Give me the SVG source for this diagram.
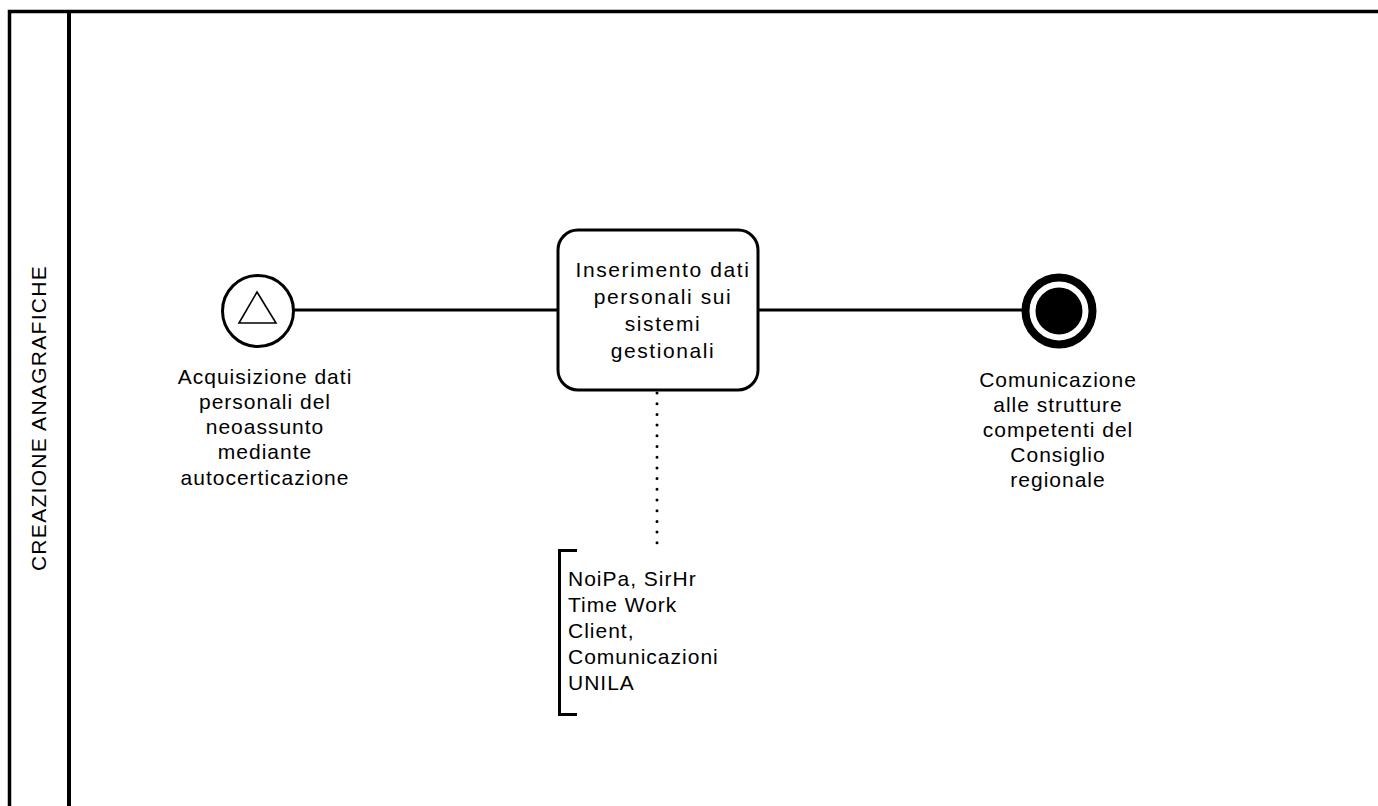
<svg xmlns="http://www.w3.org/2000/svg" width="1378" height="806" viewBox="0 0 1378 806">
<style>
text{font-family:"Liberation Sans",Arial,sans-serif;font-size:21px;letter-spacing:1px;fill:#000}
.c{text-anchor:middle}
.t{letter-spacing:1.6px}
.ln{stroke:#000;stroke-width:3;fill:none}
</style>
<rect width="1378" height="806" fill="#fff"/>
<g id="pool">
<path d="M9.5 820 V11.5 H1390" fill="none" stroke="#000" stroke-width="3.5"/>
<line x1="69" y1="11" x2="69" y2="820" stroke="#000" stroke-width="4"/>
<text transform="translate(46 418) rotate(-90)" class="c" style="letter-spacing:1.3px">CREAZIONE ANAGRAFICHE</text>
</g>
<g id="connectors">
<line class="ln" x1="294" y1="310" x2="557" y2="310"/>
<line class="ln" x1="758" y1="310" x2="1022" y2="310"/>
<line x1="657" y1="393" x2="657" y2="548" stroke="#000" stroke-width="3" stroke-linecap="round" stroke-dasharray="0 10.7"/>
</g>
<g id="start">
<circle cx="258" cy="311" r="35.5" class="ln"/>
<path d="M257 292 L276 323 L239 323 Z" fill="none" stroke="#000" stroke-width="1.6"/>
<text class="c" x="265" y="384">Acquisizione dati</text>
<text class="c" x="265" y="409">personali del</text>
<text class="c" x="265" y="434">neoassunto</text>
<text class="c" x="265" y="459">mediante</text>
<text class="c" x="265" y="485">autocerticazione</text>
</g>
<g id="task">
<rect x="558" y="230" width="200" height="160" rx="20" class="ln"/>
<text class="c t" x="663" y="277">Inserimento dati</text>
<text class="c t" x="663" y="304">personali sui</text>
<text class="c t" x="663" y="331">sistemi</text>
<text class="c t" x="663" y="358">gestionali</text>
</g>
<g id="end">
<circle cx="1059" cy="311" r="33.5" fill="none" stroke="#000" stroke-width="8"/>
<circle cx="1059" cy="311" r="23.5" fill="#000"/>
<text class="c" x="1058" y="387">Comunicazione</text>
<text class="c" x="1058" y="412">alle strutture</text>
<text class="c" x="1058" y="437">competenti del</text>
<text class="c" x="1058" y="462">Consiglio</text>
<text class="c" x="1058" y="487">regionale</text>
</g>
<g id="annotation">
<path d="M577 550.5 H559.5 V714.5 H577" class="ln"/>
<text x="568" y="586">NoiPa, SirHr</text>
<text x="568" y="612">Time Work</text>
<text x="568" y="638">Client,</text>
<text x="568" y="664">Comunicazioni</text>
<text x="568" y="690">UNILA</text>
</g>
</svg>
